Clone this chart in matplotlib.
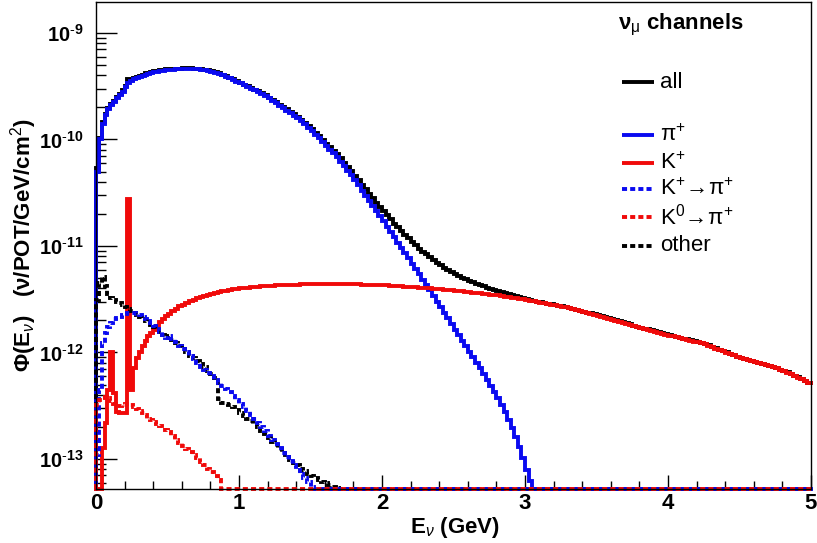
import numpy as np
import matplotlib
matplotlib.use("Agg")
import matplotlib.pyplot as plt
from matplotlib.ticker import FixedLocator, LogLocator, MultipleLocator, NullFormatter

plt.rcParams['font.family'] = ['Liberation Sans', 'DejaVu Sans']
plt.rcParams['mathtext.fontset'] = 'custom'
plt.rcParams['mathtext.rm'] = 'Liberation Sans'
plt.rcParams['mathtext.bf'] = 'Liberation Sans:bold'
plt.rcParams['mathtext.it'] = 'Liberation Sans:italic'

# binning: 0.02 GeV below 0.5 GeV, 0.025 GeV above
edges = np.concatenate([np.linspace(0, 0.5, 26)[:-1], np.linspace(0.5, 5.0, 181)])
nbins = len(edges) - 1

# log10 of flux per bin (None = empty bin); bins past the end of a list are empty
all_log = [
    # 0 - 0.5 GeV
    -10.27, -9.99, -9.84, -9.76, -9.70, -9.67, -9.64, -9.60, -9.57, -9.54,
    -9.50, -9.435, -9.44, -9.42, -9.41, -9.40, -9.39, -9.38, -9.375, -9.37,
    -9.36, -9.355, -9.35, -9.345, -9.34,
    # 0.5 - 5 GeV
    -9.342, -9.338, -9.336, -9.334, -9.333, -9.333, -9.333, -9.334, -9.336, -9.340,
    -9.345, -9.351, -9.358, -9.367, -9.378, -9.391, -9.405, -9.420, -9.436, -9.452,
    -9.468, -9.484, -9.500, -9.515, -9.532, -9.549, -9.567, -9.586, -9.607, -9.628,
    -9.651, -9.674, -9.696, -9.718, -9.741, -9.764, -9.788, -9.813, -9.842, -9.873,
    -9.905, -9.938, -9.971, -10.005, -10.038, -10.072, -10.105, -10.140, -10.178, -10.217,
    -10.257, -10.298, -10.341, -10.384, -10.426, -10.469, -10.511, -10.552, -10.593, -10.634,
    -10.672, -10.712, -10.751, -10.789, -10.825, -10.860, -10.895, -10.929, -10.962, -10.993,
    -11.024, -11.053, -11.080, -11.107, -11.134, -11.158, -11.182, -11.205, -11.226, -11.246,
    -11.264, -11.282, -11.298, -11.313, -11.328, -11.341, -11.354, -11.367, -11.378, -11.390,
    -11.400, -11.410, -11.420, -11.430, -11.440, -11.451, -11.460, -11.469, -11.479, -11.488,
    -11.498, -11.506, -11.517, -11.523, -11.529, -11.535, -11.541, -11.547, -11.553, -11.560,
    -11.567, -11.574, -11.582, -11.590, -11.598, -11.607, -11.616, -11.625, -11.634, -11.643,
    -11.652, -11.661, -11.670, -11.679, -11.688, -11.697, -11.707, -11.717, -11.727, -11.737,
    -11.747, -11.757, -11.766, -11.775, -11.784, -11.793, -11.802, -11.811, -11.820, -11.829,
    -11.838, -11.846, -11.854, -11.862, -11.870, -11.878, -11.886, -11.894, -11.902, -11.911,
    -11.922, -11.934, -11.947, -11.960, -11.973, -11.986, -11.999, -12.012, -12.025, -12.038,
    -12.049, -12.059, -12.069, -12.079, -12.089, -12.099, -12.109, -12.119, -12.128, -12.137,
    -12.147, -12.160, -12.173, -12.187, -12.202, -12.217, -12.233, -12.249, -12.267, -12.287,
]
pip_log = [
    -10.31, -10.00, -9.85, -9.77, -9.71, -9.68, -9.65, -9.61, -9.58, -9.55,
    -9.51, -9.47, -9.45, -9.43, -9.42, -9.41, -9.40, -9.39, -9.385, -9.38,
    -9.37, -9.365, -9.36, -9.355, -9.35,
    -9.347, -9.343, -9.341, -9.339, -9.338, -9.338, -9.338, -9.339, -9.341, -9.345,
    -9.350, -9.356, -9.363, -9.372, -9.383, -9.396, -9.410, -9.425, -9.442, -9.458,
    -9.474, -9.490, -9.506, -9.522, -9.539, -9.556, -9.574, -9.594, -9.615, -9.637,
    -9.660, -9.683, -9.706, -9.729, -9.752, -9.776, -9.800, -9.826, -9.856, -9.888,
    -9.921, -9.955, -9.990, -10.025, -10.060, -10.095, -10.130, -10.168, -10.208, -10.250,
    -10.293, -10.338, -10.385, -10.432, -10.480, -10.528, -10.577, -10.625, -10.673, -10.722,
    -10.770, -10.820, -10.870, -10.920, -10.968, -11.017, -11.067, -11.117, -11.167, -11.217,
    -11.267, -11.317, -11.367, -11.418, -11.470, -11.522, -11.575, -11.628, -11.680, -11.733,
    -11.786, -11.838, -11.890, -11.940, -11.992, -12.043, -12.095, -12.148, -12.203, -12.258,
    -12.314, -12.371, -12.430, -12.492, -12.560, -12.632, -12.710, -12.795, -12.890, -12.990,
    -13.100, -13.210,
]
kp_log = [
    None, None, -12.90, -12.66, -12.35, -12.00, -12.38, -12.56, -12.57, -12.57,
    -12.57, -10.56, -12.35, -12.15, -12.05, -12.00, -11.94, -11.89, -11.85, -11.82,
    -11.79, -11.75, -11.71, -11.69, -11.66,
    -11.635, -11.610, -11.588, -11.568, -11.550, -11.533, -11.518, -11.504, -11.491, -11.479,
    -11.468, -11.458, -11.449, -11.440, -11.432, -11.425, -11.419, -11.413, -11.408, -11.403,
    -11.399, -11.395, -11.391, -11.388, -11.385, -11.382, -11.379, -11.377, -11.375, -11.373,
    -11.371, -11.369, -11.367, -11.365, -11.364, -11.363, -11.362, -11.361, -11.360, -11.359,
    -11.358, -11.357, -11.357, -11.356, -11.356, -11.356, -11.356, -11.357, -11.357, -11.358,
    -11.358, -11.359, -11.360, -11.361, -11.362, -11.363, -11.364, -11.365, -11.366, -11.368,
    -11.369, -11.371, -11.373, -11.375, -11.377, -11.379, -11.381, -11.383, -11.386, -11.388,
    -11.391, -11.393, -11.396, -11.399, -11.402, -11.405, -11.408, -11.411, -11.414, -11.417,
    -11.420, -11.424, -11.427, -11.431, -11.434, -11.438, -11.441, -11.445, -11.449, -11.453,
    -11.457, -11.461, -11.465, -11.470, -11.475, -11.480, -11.485, -11.490, -11.496, -11.502,
    -11.508, -11.514, -11.520, -11.526, -11.532, -11.538, -11.544, -11.550, -11.556, -11.563,
    -11.570, -11.577, -11.585, -11.593, -11.601, -11.610, -11.619, -11.628, -11.637, -11.646,
    -11.655, -11.664, -11.673, -11.682, -11.691, -11.700, -11.710, -11.720, -11.730, -11.740,
    -11.750, -11.760, -11.769, -11.778, -11.787, -11.796, -11.805, -11.814, -11.823, -11.832,
    -11.841, -11.849, -11.857, -11.865, -11.873, -11.881, -11.889, -11.897, -11.905, -11.914,
    -11.925, -11.937, -11.950, -11.963, -11.976, -11.989, -12.002, -12.015, -12.028, -12.041,
    -12.052, -12.062, -12.072, -12.082, -12.092, -12.102, -12.112, -12.122, -12.131, -12.140,
    -12.150, -12.163, -12.176, -12.190, -12.205, -12.220, -12.236, -12.252, -12.270, -12.290,
]
kpi_log = [
    -12.96, -12.35, -11.91, -11.82, -11.76, -11.72, -11.69, -11.68, -11.67, -11.65,
    -11.64, -11.63, -11.63, -11.63, -11.64, -11.65, -11.67, -11.69, -11.70, -11.72,
    -11.75, -11.78, -11.81, -11.84, -11.86,
    -11.845, -11.875, -11.905, -11.935, -11.965, -11.995, -12.030, -12.065, -12.100, -12.135,
    -12.165, -12.195, -12.225, -12.255, -12.285, -12.315, -12.345, -12.375, -12.410, -12.445,
    -12.480, -12.515, -12.550, -12.585, -12.620, -12.660, -12.700, -12.740, -12.780, -12.820,
    -12.860, -12.900, -12.940, -12.980, -13.020, -13.060, -13.100, -13.140, -13.180, -13.220,
    -13.260,
]
k0pi_log = [
    -12.49, -12.45, -12.43, -12.42, -12.43, -12.46, -12.48, -12.50, -12.50, -12.49,
    -12.48, -12.48, -12.49, -12.51, -12.53, -12.55, -12.57, -12.59, -12.62, -12.63,
    -12.65, -12.67, -12.69, -12.71, -12.73,
    -12.75, -12.78, -12.82, -12.85, -12.88, -12.91, -12.93, -12.96, -12.99, -13.03,
    -13.06, -13.09, -13.12, -13.16, -13.20,
]
other_log = [
    -11.51, -11.35, -11.29, -11.38, -11.45, -11.49, -11.51, -11.53, -11.54, -11.55,
    -11.57, -11.59, -11.61, -11.63, -11.65, -11.67, -11.69, -11.70, -11.72, -11.74,
    -11.76, -11.79, -11.81, -11.84, -11.86,
    -11.85, -11.88, -11.91, -11.94, -11.97, -12.00, -12.03, -12.05, -12.08, -12.11,
    -12.14, -12.17, -12.20, -12.24, -12.44, -12.47, -12.48, -12.49, -12.51, -12.54,
    -12.57, -12.60, -12.62, -12.64, -12.67, -12.70, -12.74, -12.77, -12.80, -12.84,
    -12.87, -12.91, -12.94, -12.98, -13.01, -13.04, -13.06, -13.09, -13.11, -13.14,
    -13.16, -13.18, -13.20, -13.22, -13.23, -13.245, -13.26, -13.275,
]


def to_flux(logs):
    out = np.zeros(nbins)
    for i, v in enumerate(logs):
        if v is not None:
            out[i] = 10.0 ** v
    return out


y_lo, y_hi = 10 ** -13.282, 10 ** -8.709
blue = '#0a0af0'
red = '#f00a0a'
lw = 2.8
dash = (1.3, 0.8)

fig = plt.figure(figsize=(8.17, 5.43), dpi=100)
ax = fig.add_axes([96 / 817, 1 - 489 / 543, 715 / 817, 487 / 543])


def draw_hist(logs, color, dashed=False):
    # empty bins sit on the lower frame edge
    y = np.maximum(to_flux(logs), y_lo)
    xs = np.concatenate([[edges[0]], edges])
    ys = np.concatenate([[y_lo], y, [y[-1]]])
    kw = dict(color=color, lw=lw, clip_on=False, solid_joinstyle='miter',
              dash_joinstyle='miter', dash_capstyle='butt')
    if dashed:
        kw['dashes'] = dash
    ax.step(xs, ys, where='post', **kw)


draw_hist(all_log, 'black')
draw_hist(pip_log, blue)
draw_hist(kp_log, red)
draw_hist(other_log, 'black', dashed=True)
draw_hist(kpi_log, blue, dashed=True)
draw_hist(k0pi_log, red, dashed=True)

ax.set_xlim(0, 5)
ax.set_yscale('log')
ax.set_ylim(y_lo, y_hi)

ax.yaxis.set_major_locator(FixedLocator([1e-13, 1e-12, 1e-11, 1e-10, 1e-9]))
ax.yaxis.set_minor_locator(LogLocator(base=10, subs=np.arange(2, 10), numticks=20))
ax.yaxis.set_minor_formatter(NullFormatter())
ax.set_yticklabels([r'$\mathbf{10^{\text{-}13}}$', r'$\mathbf{10^{\text{-}12}}$',
                    r'$\mathbf{10^{\text{-}11}}$', r'$\mathbf{10^{\text{-}10}}$',
                    r'$\mathbf{10^{\text{-}9}}$'], fontsize=14.5)
ax.set_xticks(range(6))
ax.set_xticklabels([str(i) for i in range(6)], fontsize=16, fontweight='bold')
ax.xaxis.set_minor_locator(MultipleLocator(0.2))

ax.tick_params(which='both', direction='in', top=False, right=False, width=1.0)
ax.tick_params(axis='y', which='major', length=15, pad=9)
ax.tick_params(axis='y', which='minor', length=7.5)
ax.tick_params(axis='x', which='major', length=10, pad=3)
ax.tick_params(axis='x', which='minor', length=5.5)
for s in ax.spines.values():
    s.set_linewidth(1.0)

fig.text(24 / 817, 1 - 245 / 543, 'Φ(E$_ν$)   (ν/POT/GeV/cm$^2$)', rotation=90,
         ha='center', va='center', fontsize=16, fontweight='bold')
fig.text(455 / 817, 1 - 527 / 543, 'E$_ν$ (GeV)', ha='center', va='center',
         fontsize=16, fontweight='bold')

# legend
ax.text(0.730, 0.9528, r'ν$_\mathrm{μ}$ channels', transform=ax.transAxes,
        ha='left', va='center', fontsize=16, fontweight='bold')
entries = [
    (0.8357, 'black', False, 'all'),
    (0.7269, blue, False, r'$\mathrm{\pi^{+}}$'),
    (0.6694, red, False, r'$\mathrm{K^{+}}$'),
    (0.6160, blue, True, r'$\mathrm{K^{+}\!\rightarrow\!\pi^{+}}$'),
    (0.5585, red, True, r'$\mathrm{K^{0}\!\rightarrow\!\pi^{+}}$'),
    (0.4990, 'black', True, 'other'),
]
for yy, col, dashed, lab in entries:
    kw = dict(color=col, lw=lw, transform=ax.transAxes, solid_capstyle='butt',
              dash_capstyle='butt')
    if dashed:
        kw['dashes'] = dash
    ax.plot([0.7357, 0.7804], [yy, yy], **kw)
    ax.text(0.7888, yy, lab, transform=ax.transAxes, ha='left', va='center', fontsize=16)

fig.savefig('out.png', dpi=100)
